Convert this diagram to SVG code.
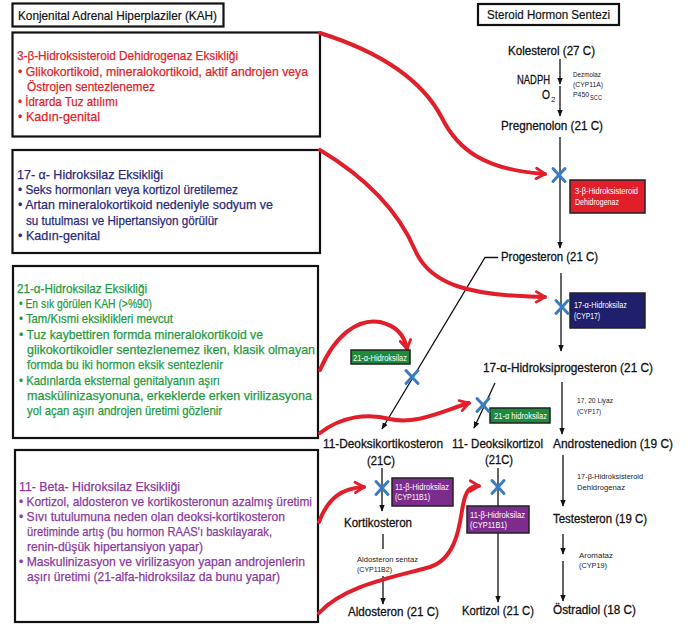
<svg xmlns="http://www.w3.org/2000/svg" width="694" height="625" viewBox="0 0 694 625">
<style>
text{font-family:"Liberation Sans",Arial,sans-serif}
.bx{fill:#fff;stroke:#111;stroke-width:2.2}
.t1{font-size:13px;fill:#e11f2b;stroke:#e11f2b;stroke-width:0.25}
.t2{font-size:13px;fill:#2a2a78;stroke:#2a2a78;stroke-width:0.25}
.t3{font-size:13px;fill:#1f9a3f;stroke:#1f9a3f;stroke-width:0.25}
.t4{font-size:13px;fill:#8a3a9c;stroke:#8a3a9c;stroke-width:0.25}
.hd{font-size:13px;fill:#111;stroke:#111;stroke-width:0.2}
.lb{font-size:13px;fill:#111;stroke:#111;stroke-width:0.3}
.sm{font-size:8px;fill:#222}
.en{font-size:8.5px;fill:#fff}
.ln{stroke:#111;stroke-width:1.3;fill:none}
.lna{stroke:#111;stroke-width:1.3;fill:none;marker-end:url(#ah)}
.rd{stroke:#e11f2b;stroke-width:4;fill:none;stroke-linecap:round;marker-end:url(#rh)}
.x{stroke:#3a7cc2;stroke-width:3;stroke-linecap:round}
.tag{stroke:#222;stroke-width:1.5}
</style>
<defs>
<marker id="ah" viewBox="0 0 10 10" refX="9" refY="5" markerWidth="7" markerHeight="7" markerUnits="userSpaceOnUse" orient="auto"><path d="M0,1 L10,5 L0,9 z" fill="#111"/></marker>
<marker id="rh" viewBox="0 0 12 12" refX="10" refY="6" markerWidth="14" markerHeight="14" markerUnits="userSpaceOnUse" orient="auto"><path d="M2.5,1.5 L10,6 L2.5,10.5" fill="none" stroke="#e11f2b" stroke-width="2.4" stroke-linecap="round" stroke-linejoin="round"/></marker>
<g id="xm"><line class="x" x1="-6" y1="-6.5" x2="6" y2="6.5"/><line class="x" x1="6" y1="-6.5" x2="-6" y2="6.5"/></g>
</defs>

<rect width="694" height="625" fill="#fff"/>

<g id="kah-title">
<rect class="bx" x="12.5" y="3.5" width="211" height="23"/>
<text class="hd" x="18" y="20" textLength="199" lengthAdjust="spacingAndGlyphs">Konjenital Adrenal Hiperplaziler (KAH)</text>
</g>

<g id="box-3beta">
<rect class="bx" x="12.5" y="32.5" width="307.5" height="104"/>
<text class="t1" x="17" y="60" textLength="221" lengthAdjust="spacingAndGlyphs">3-β-Hidroksisteroid Dehidrogenaz Eksikliği</text>
<text class="t1" x="18" y="75.5" textLength="290" lengthAdjust="spacingAndGlyphs">• Glikokortikoid, mineralokortikoid, aktif androjen veya</text>
<text class="t1" x="27" y="90.5" textLength="128" lengthAdjust="spacingAndGlyphs">Östrojen sentezlenemez</text>
<text class="t1" x="18" y="106" textLength="100" lengthAdjust="spacingAndGlyphs">• İdrarda Tuz atılımı</text>
<text class="t1" x="18" y="121" textLength="82" lengthAdjust="spacingAndGlyphs">• Kadın-genital</text>
</g>

<g id="box-17alpha">
<rect class="bx" x="12.5" y="150" width="307.5" height="103"/>
<text class="t2" x="17" y="179" textLength="146" lengthAdjust="spacingAndGlyphs">17- α- Hidroksilaz Eksikliği</text>
<text class="t2" x="18" y="194" textLength="220" lengthAdjust="spacingAndGlyphs">• Seks hormonları veya kortizol üretilemez</text>
<text class="t2" x="18" y="209" textLength="255" lengthAdjust="spacingAndGlyphs">• Artan mineralokortikoid nedeniyle sodyum ve</text>
<text class="t2" x="26" y="224.5" textLength="192" lengthAdjust="spacingAndGlyphs">su tutulması ve Hipertansiyon görülür</text>
<text class="t2" x="18" y="240" textLength="82" lengthAdjust="spacingAndGlyphs">• Kadın-genital</text>
</g>

<g id="box-21alpha">
<rect class="bx" x="13" y="266" width="305" height="172"/>
<text class="t3" x="17" y="293" textLength="130" lengthAdjust="spacingAndGlyphs">21-α-Hidroksilaz Eksikliği</text>
<text class="t3" x="19" y="308" textLength="133" lengthAdjust="spacingAndGlyphs">• En sık görülen KAH (&gt;%90)</text>
<text class="t3" x="19" y="323" textLength="154" lengthAdjust="spacingAndGlyphs">• Tam/Kısmi eksiklikleri mevcut</text>
<text class="t3" x="19" y="338.5" textLength="244" lengthAdjust="spacingAndGlyphs">• Tuz kaybettiren formda mineralokortikoid ve</text>
<text class="t3" x="27" y="353.5" textLength="288" lengthAdjust="spacingAndGlyphs">glikokortikoidler sentezlenemez iken, klasik olmayan</text>
<text class="t3" x="27" y="368.5" textLength="196" lengthAdjust="spacingAndGlyphs">formda bu iki hormon eksik sentezlenir</text>
<text class="t3" x="19" y="384.5" textLength="201" lengthAdjust="spacingAndGlyphs">• Kadınlarda eksternal genitalyanın aşırı</text>
<text class="t3" x="27" y="400" textLength="285" lengthAdjust="spacingAndGlyphs">maskülinizasyonuna, erkeklerde erken virilizasyona</text>
<text class="t3" x="27" y="415" textLength="195" lengthAdjust="spacingAndGlyphs">yol açan aşırı androjen üretimi gözlenir</text>
</g>

<g id="box-11beta">
<rect class="bx" x="15" y="450" width="303" height="172"/>
<text class="t4" x="19" y="491" textLength="161" lengthAdjust="spacingAndGlyphs">11- Beta- Hidroksilaz Eksikliği</text>
<text class="t4" x="19" y="506" textLength="293" lengthAdjust="spacingAndGlyphs">• Kortizol, aldosteron ve kortikosteronun azalmış üretimi</text>
<text class="t4" x="19" y="521" textLength="266" lengthAdjust="spacingAndGlyphs">• Sıvı tutulumuna neden olan deoksi-kortikosteron</text>
<text class="t4" x="27" y="536" textLength="245" lengthAdjust="spacingAndGlyphs">üretiminde artış (bu hormon RAAS'ı baskılayarak,</text>
<text class="t4" x="27" y="551" textLength="176" lengthAdjust="spacingAndGlyphs">renin-düşük hipertansiyon yapar)</text>
<text class="t4" x="19" y="566" textLength="286" lengthAdjust="spacingAndGlyphs">• Maskulinizasyon ve virilizasyon yapan androjenlerin</text>
<text class="t4" x="27" y="581" textLength="253" lengthAdjust="spacingAndGlyphs">aşırı üretimi (21-alfa-hidroksilaz da bunu yapar)</text>
</g>

<g id="steroid-title">
<rect class="bx" x="478" y="4" width="141" height="21"/>
<text class="hd" x="487" y="19" textLength="123" lengthAdjust="spacingAndGlyphs">Steroid Hormon Sentezi</text>
</g>

<g id="connectors">
<line class="lna" x1="560" y1="59" x2="560" y2="84"/>
<line class="lna" x1="560" y1="86" x2="560" y2="116"/>
<line class="lna" x1="560" y1="137" x2="560" y2="248"/>
<line class="lna" x1="561" y1="273" x2="561" y2="351"/>
<line class="lna" x1="562" y1="382" x2="562" y2="434"/>
<line class="lna" x1="563" y1="455" x2="563" y2="506"/>
<line class="lna" x1="563" y1="534" x2="563" y2="554"/>
<line class="lna" x1="563" y1="561" x2="563" y2="601"/>
<polyline class="lna" points="498,257.5 485,257.5 382,429"/>
<line class="lna" x1="495" y1="383" x2="474" y2="428"/>
<line class="lna" x1="382" y1="468" x2="382" y2="511"/>
<line class="ln" x1="383" y1="534" x2="383" y2="549"/>
<line class="lna" x1="383" y1="576" x2="383" y2="604"/>
<line class="ln" x1="498" y1="468" x2="498" y2="507"/>
<line class="lna" x1="498" y1="533" x2="498" y2="602"/>
<path class="rd" d="M320,33 C390,55 425,85 442,118 C458,150 485,170 545,174"/>
<path class="rd" d="M320,150 C370,180 400,215 415,250 C430,285 470,296 545,297"/>
<path class="rd" d="M320,370 C335,335 358,318 380,322 C398,326 405,338 407,349"/>
<path class="rd" d="M320,433 C342,416 368,413 390,419 C415,425 440,412 469,403"/>
<path class="rd" d="M319,522 C328,498 342,488 364,487"/>
<path class="rd" d="M319,613 C345,585 395,577 430,567 C458,558 460,520 463,505 C466,490 470,486 479,486"/>
</g>

<g id="kolesterol">
<text class="lb" x="508" y="55" textLength="87" lengthAdjust="spacingAndGlyphs">Kolesterol (27 C)</text>
<text class="lb" x="550" y="84" font-size="11" text-anchor="end" textLength="33" lengthAdjust="spacingAndGlyphs">NADPH</text>
<text class="lb" x="542" y="99" font-size="11" textLength="8" lengthAdjust="spacingAndGlyphs">O</text>
<text class="sm" x="551" y="101.5" font-size="6.5">2</text>
<text class="sm" x="573" y="77" textLength="28" lengthAdjust="spacingAndGlyphs">Dezmolaz</text>
<text class="sm" x="573" y="87" textLength="30" lengthAdjust="spacingAndGlyphs">(CYP11A)</text>
<text class="sm" x="573" y="96.5" textLength="16" lengthAdjust="spacingAndGlyphs">P450</text>
<text class="sm" x="590" y="99.5" font-size="6" textLength="12" lengthAdjust="spacingAndGlyphs">SCC</text>
</g>

<g id="pregnenolon">
<text class="lb" x="501" y="130" textLength="102" lengthAdjust="spacingAndGlyphs">Pregnenolon (21 C)</text>
</g>

<g id="enzyme-3beta">
<rect class="tag" x="570" y="180" width="75" height="33" fill="#e11f2b"/>
<text class="en" x="575" y="194" textLength="63" lengthAdjust="spacingAndGlyphs">3-β-Hidroksisteroid</text>
<text class="en" x="575" y="205" textLength="44" lengthAdjust="spacingAndGlyphs">Dehidrogenaz</text>
<use href="#xm" x="559" y="175"/>
</g>

<g id="progesteron">
<text class="lb" x="501" y="261" textLength="97" lengthAdjust="spacingAndGlyphs">Progesteron (21 C)</text>
</g>

<g id="enzyme-17alpha">
<rect class="tag" x="570" y="293" width="75" height="35" fill="#1f1f6b"/>
<text class="en" x="574" y="308" textLength="53" lengthAdjust="spacingAndGlyphs">17-α-Hidroksilaz</text>
<text class="en" x="574" y="319" textLength="26" lengthAdjust="spacingAndGlyphs">(CYP17)</text>
<use href="#xm" x="562" y="307"/>
</g>

<g id="hidroksiprogesteron">
<text class="lb" x="483" y="372" textLength="170" lengthAdjust="spacingAndGlyphs">17-α-Hidroksiprogesteron (21 C)</text>
</g>

<g id="enzyme-21a-1">
<rect class="tag" x="351" y="350" width="59" height="14" fill="#1e8a3c"/>
<text class="en" x="353" y="360.5" font-size="8" textLength="54" lengthAdjust="spacingAndGlyphs">21-α-Hidroksilaz</text>
<use href="#xm" x="412" y="377"/>
</g>

<g id="enzyme-21a-2">
<rect class="tag" x="490" y="408" width="60" height="15" fill="#1e8a3c"/>
<text class="en" x="494" y="419" font-size="8" textLength="53" lengthAdjust="spacingAndGlyphs">21-α hidroksilaz</text>
<use href="#xm" x="483" y="405"/>
</g>

<g id="liyaz">
<text class="sm" x="577" y="403" textLength="36" lengthAdjust="spacingAndGlyphs">17, 20 Liyaz</text>
<text class="sm" x="577" y="414" textLength="24" lengthAdjust="spacingAndGlyphs">(CYP17)</text>
</g>

<g id="deoksikortikosteron">
<text class="lb" x="323" y="448" font-size="12.5" textLength="120" lengthAdjust="spacingAndGlyphs">11-Deoksikortikosteron</text>
<text class="lb" x="367" y="465" textLength="28" lengthAdjust="spacingAndGlyphs">(21C)</text>
</g>

<g id="deoksikortizol">
<text class="lb" x="452" y="448" font-size="12.5" textLength="91" lengthAdjust="spacingAndGlyphs">11- Deoksikortizol</text>
<text class="lb" x="485" y="464" textLength="28" lengthAdjust="spacingAndGlyphs">(21C)</text>
</g>

<g id="androstenedion">
<text class="lb" x="553" y="448" textLength="120" lengthAdjust="spacingAndGlyphs">Androstenedion (19 C)</text>
</g>

<g id="enzyme-17beta">
<text class="sm" x="577" y="479" textLength="66" lengthAdjust="spacingAndGlyphs">17-β-Hidroksisteroid</text>
<text class="sm" x="577" y="490" textLength="48" lengthAdjust="spacingAndGlyphs">Dehidrogenaz</text>
</g>

<g id="enzyme-11b-1">
<rect class="tag" x="392" y="478" width="61" height="28" fill="#7b2c8c"/>
<text class="en" x="395" y="490" textLength="54" lengthAdjust="spacingAndGlyphs">11-β-Hidroksilaz</text>
<text class="en" x="395" y="500" textLength="35" lengthAdjust="spacingAndGlyphs">(CYP11B1)</text>
<use href="#xm" x="382" y="488"/>
</g>

<g id="enzyme-11b-2">
<rect class="tag" x="467" y="506" width="62" height="27" fill="#7b2c8c"/>
<text class="en" x="470" y="518" textLength="55" lengthAdjust="spacingAndGlyphs">11-β-Hidroksilaz</text>
<text class="en" x="470" y="528" textLength="37" lengthAdjust="spacingAndGlyphs">(CYP11B1)</text>
<use href="#xm" x="498" y="487"/>
</g>

<g id="kortikosteron">
<text class="lb" x="344" y="527" textLength="68" lengthAdjust="spacingAndGlyphs">Kortikosteron</text>
</g>

<g id="testesteron">
<text class="lb" x="553" y="523" textLength="94" lengthAdjust="spacingAndGlyphs">Testesteron (19 C)</text>
</g>

<g id="aldosteron-sentaz">
<text class="sm" x="357" y="562" textLength="61" lengthAdjust="spacingAndGlyphs">Aldosteron sentaz</text>
<text class="sm" x="357" y="572" textLength="35" lengthAdjust="spacingAndGlyphs">(CYP11B2)</text>
</g>

<g id="aromataz">
<text class="sm" x="579" y="558" textLength="34" lengthAdjust="spacingAndGlyphs">Aromataz</text>
<text class="sm" x="579" y="568" textLength="28" lengthAdjust="spacingAndGlyphs">(CYP19)</text>
</g>

<g id="aldosteron">
<text class="lb" x="348" y="616" textLength="91" lengthAdjust="spacingAndGlyphs">Aldosteron (21 C)</text>
</g>

<g id="kortizol">
<text class="lb" x="462" y="615" textLength="72" lengthAdjust="spacingAndGlyphs">Kortizol (21 C)</text>
</g>

<g id="ostradiol">
<text class="lb" x="553" y="614" textLength="83" lengthAdjust="spacingAndGlyphs">Östradiol (18 C)</text>
</g>
</svg>
